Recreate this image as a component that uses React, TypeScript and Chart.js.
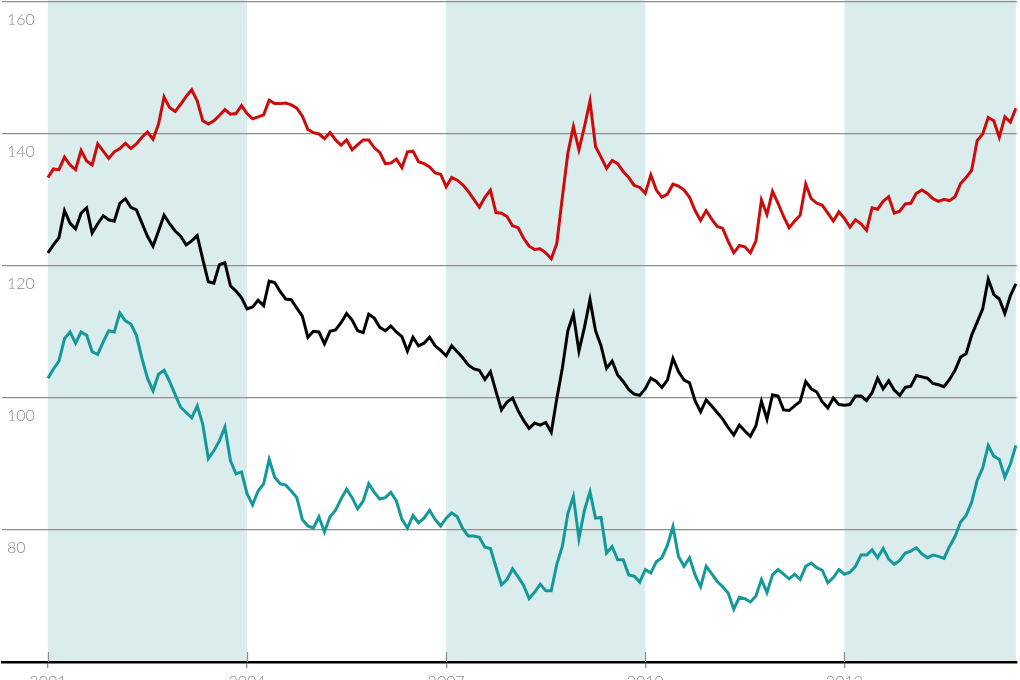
import React, { useEffect, useRef } from 'react';
import { Chart, registerables, Plugin } from 'chart.js';

Chart.register(...registerables);

// month index 0 = Jan 2001, one value per month up to Aug 2015
const redSeries = [
  133.4, 134.7, 134.6, 136.5, 135.3, 134.6, 137.5, 135.9, 135.3, 138.5, 137.4, 136.3,
  137.3, 137.8, 138.6, 137.8, 138.5, 139.5, 140.3, 139.2, 141.5, 145.6, 144.0, 143.4,
  144.5, 145.7, 146.7, 145.0, 142.0, 141.5, 142.0, 142.8, 143.7, 143.0, 143.1, 144.3,
  143.1, 142.3, 142.6, 142.9, 145.1, 144.6, 144.6, 144.7, 144.4, 143.9, 142.7, 140.7,
  140.2, 140.0, 139.3, 140.2, 139.1, 138.3, 139.1, 137.6, 138.4, 139.1, 139.1, 137.9,
  137.2, 135.5, 135.6, 136.2, 134.9, 137.3, 137.4, 135.8, 135.5, 135.0, 134.1, 133.9,
  132.0, 133.4, 133.0, 132.3, 131.3, 130.1, 128.9, 130.4, 131.5, 128.1, 128.0, 127.5,
  126.1, 125.8, 124.2, 123.0, 122.5, 122.6, 122.0, 121.1, 123.4, 130.4, 137.1, 141.1,
  137.6, 141.1, 145.0, 138.1, 136.5, 134.8, 136.0, 135.5, 134.3, 133.4, 132.2, 131.9,
  131.0, 133.8, 131.5, 130.4, 130.9, 132.4, 132.1, 131.5, 130.4, 128.4, 126.9, 128.4,
  127.1, 126.0, 125.7, 123.7, 122.0, 123.1, 122.9, 122.0, 123.8, 130.0, 127.8, 131.3,
  129.5, 127.5, 125.8, 126.8, 127.7, 132.4, 130.2, 129.5, 129.2, 128.0, 126.8, 128.2,
  127.2, 125.9, 127.0, 126.4, 125.4, 128.8, 128.6, 129.8, 130.5, 128.0, 128.3, 129.4,
  129.5, 131.0, 131.5, 131.0, 130.2, 129.8, 130.1, 129.9, 130.5, 132.5, 133.4, 134.5,
  139.0, 140.0, 142.5, 142.0, 139.5, 142.6, 141.8, 143.9,
];

const blackSeries = [
  122.0, 123.2, 124.3, 128.4, 126.5, 125.6, 128.0, 128.8, 125.0, 126.4, 127.6, 127.0,
  126.8, 129.5, 130.2, 128.9, 128.5, 126.5, 124.5, 123.0, 125.3, 127.7, 126.4, 125.3,
  124.5, 123.2, 123.8, 124.6, 121.0, 117.6, 117.4, 120.2, 120.5, 117.0, 116.2, 115.2,
  113.5, 113.8, 114.8, 114.0, 117.7, 117.5, 116.1, 115.0, 114.9, 113.6, 112.4, 109.2,
  110.1, 110.0, 108.2, 110.1, 110.3, 111.4, 112.8, 111.8, 110.2, 109.9, 112.7, 112.1,
  110.7, 110.2, 110.9, 110.0, 109.3, 107.1, 109.2, 107.9, 108.3, 109.2, 107.9, 107.2,
  106.4, 107.9, 107.0, 106.1, 105.0, 104.4, 104.2, 102.8, 104.0, 101.0, 98.2, 99.4,
  100.0, 98.1, 96.6, 95.4, 96.2, 95.9, 96.3, 94.8, 99.9, 104.5, 110.2, 112.7,
  107.1, 110.7, 114.9, 110.2, 107.9, 104.5, 105.6, 103.5, 102.5, 101.3, 100.6, 100.4,
  101.4, 103.0, 102.5, 101.6, 102.7, 106.0, 104.0, 102.7, 102.3, 99.6, 97.9, 99.7,
  98.8, 97.8, 96.8, 95.5, 94.4, 95.9, 95.0, 94.2, 95.8, 99.5, 96.8, 100.5,
  100.3, 98.2, 98.1, 98.8, 99.5, 102.5, 101.4, 100.9, 99.4, 98.5, 100.0, 99.0,
  98.9, 99.0, 100.3, 100.3, 99.6, 100.8, 103.0, 101.4, 102.6, 101.2, 100.4, 101.6,
  101.8, 103.4, 103.2, 103.0, 102.2, 102.0, 101.7, 102.8, 104.2, 106.2, 106.7, 109.5,
  111.5, 113.5, 118.0, 115.7, 115.0, 112.8, 115.5, 117.3,
];

const tealSeries = [
  103.0, 104.4, 105.6, 109.0, 110.0, 108.3, 110.0, 109.5, 107.0, 106.6, 108.5, 110.2,
  110.0, 112.9, 111.7, 111.2, 109.5, 106.0, 103.0, 101.1, 103.6, 104.2, 102.5, 100.5,
  98.6, 97.8, 97.0, 98.8, 96.0, 90.8, 92.0, 93.5, 95.6, 90.5, 88.5, 88.8,
  85.5, 83.8, 85.9, 87.0, 90.7, 88.0, 87.0, 86.8, 85.9, 84.9, 81.6, 80.6,
  80.3, 82.0, 79.7, 82.0, 83.0, 84.7, 86.2, 84.9, 83.2, 84.4, 87.0, 85.7,
  84.7, 84.9, 85.7, 84.4, 81.6, 80.3, 82.2, 81.1, 81.8, 83.0, 81.6, 80.6,
  81.8, 82.6, 82.0, 80.2, 79.1, 79.1, 78.9, 77.4, 77.2, 74.4, 71.7, 72.5,
  74.1, 72.9, 71.6, 69.6, 70.6, 71.8, 70.8, 70.8, 74.8, 77.5, 82.5, 85.1,
  78.7, 83.0, 85.8, 81.8, 81.9, 76.5, 77.5, 75.5, 75.5, 73.2, 73.0, 72.1,
  74.0, 73.5, 75.2, 75.8, 77.7, 80.5, 76.0, 74.5, 75.8, 73.2, 71.4, 74.5,
  73.4, 72.2, 71.4, 70.4, 68.0, 69.8, 69.6, 69.1, 70.0, 72.5, 70.5, 73.2,
  74.0, 73.3, 72.6, 73.3, 72.5, 74.5, 75.0, 74.3, 73.9, 72.0, 72.8, 74.0,
  73.3, 73.6, 74.5, 76.2, 76.2, 77.0, 75.8, 77.2, 75.6, 74.8, 75.4, 76.5,
  76.8, 77.3, 76.4, 75.8, 76.2, 76.0, 75.7, 77.5, 79.0, 81.2, 82.2, 84.2,
  87.5, 89.4, 92.8, 91.2, 90.7, 88.0, 90.0, 92.8,
];

const startYear = 2001;
const yearTicks = [2001, 2004, 2007, 2010, 2013];
const valueTicks = [80, 100, 120, 140, 160];
const shadedFrom = [2001, 2007, 2013];
const shadedTo = [2004, 2010, 2015 + 7 / 12];

const toMonth = (year: number) => (year - startYear) * 12;
const toPoints = (values: number[]) => values.map((v, i) => ({ x: i, y: v }));

const GRID = '#8f8f8f';
const LABEL = '#8a8a8a';

const bandsPlugin: Plugin<'line'> = {
  id: 'bands',
  beforeDraw(chart) {
    const { ctx, chartArea, scales } = chart;
    const x = scales.x;
    ctx.save();
    ctx.fillStyle = '#dbecec';
    shadedFrom.forEach((from, i) => {
      const x0 = x.getPixelForValue(toMonth(from));
      const x1 = Math.min(x.getPixelForValue(toMonth(shadedTo[i])), chartArea.right);
      ctx.fillRect(x0, 0, x1 - x0, chartArea.bottom);
    });
    ctx.restore();
  },
  afterDraw(chart) {
    // year ticks also poke up into the plot
    const { ctx, chartArea, scales } = chart;
    const x = scales.x;
    ctx.save();
    ctx.strokeStyle = GRID;
    ctx.lineWidth = 1.3;
    yearTicks.forEach(year => {
      const px = Math.round(x.getPixelForValue(toMonth(year))) + 0.5;
      ctx.beginPath();
      ctx.moveTo(px, chartArea.bottom - 10);
      ctx.lineTo(px, chartArea.bottom);
      ctx.stroke();
    });
    ctx.restore();
  },
};

const App = () => {
  const canvasRef = useRef<HTMLCanvasElement>(null);
  const chartRef = useRef<Chart | null>(null);

  useEffect(() => {
    if (!canvasRef.current) return;
    const ctx = canvasRef.current.getContext('2d');
    if (!ctx) return;

    const line = (label: string, values: number[], color: string) => ({
      label,
      data: toPoints(values),
      borderColor: color,
      backgroundColor: color,
      borderWidth: 3,
      pointRadius: 0,
      tension: 0,
      fill: false,
    });

    chartRef.current = new Chart(ctx, {
      type: 'line',
      data: {
        datasets: [
          line('Red', redSeries, '#cc0b0b'),
          line('Black', blackSeries, '#000000'),
          line('Teal', tealSeries, '#14999a'),
        ],
      },
      options: {
        responsive: true,
        maintainAspectRatio: false,
        animation: false,
        layout: { padding: { left: 2, right: 3, top: 0, bottom: 0 } },
        plugins: {
          legend: { display: false },
          tooltip: { enabled: false },
        },
        scales: {
          x: {
            type: 'linear',
            min: -8.3,
            max: 175.2,
            afterBuildTicks: scale => {
              scale.ticks = yearTicks.map(y => ({ value: toMonth(y) }));
            },
            afterFit: scale => {
              scale.height = 38;
              scale.paddingLeft = 0;
              scale.paddingRight = 0;
            },
            ticks: {
              autoSkip: false,
              maxRotation: 0,
              padding: 4,
              color: LABEL,
              font: { family: 'Lato', size: 16, weight: 300 },
              callback: value => String(startYear + Math.round(Number(value) / 12)),
            },
            grid: {
              display: true,
              drawOnChartArea: false,
              drawTicks: true,
              tickLength: 6,
              color: GRID,
              lineWidth: 1.3,
            },
            border: { display: true, color: '#000000', width: 2.5 },
          },
          y: {
            position: 'left',
            min: 60,
            max: 160.3,
            afterBuildTicks: scale => {
              scale.ticks = valueTicks.map(v => ({ value: v }));
            },
            afterFit: scale => {
              scale.width = 0;
              scale.paddingTop = 0;
              scale.paddingBottom = 0;
            },
            ticks: {
              mirror: true,
              padding: 5,
              labelOffset: 18,
              color: LABEL,
              font: { family: 'Lato', size: 16, weight: 300 },
            },
            grid: {
              color: GRID,
              lineWidth: 1.3,
              drawTicks: false,
            },
            border: { display: false },
          },
        },
      },
      plugins: [bandsPlugin],
    });

    return () => {
      if (chartRef.current) {
        chartRef.current.destroy();
        chartRef.current = null;
      }
    };
  }, []);

  return (
    <div style={{ position: 'fixed', left: 0, top: 0, width: 1020, height: 700, background: '#ffffff' }}>
      <canvas ref={canvasRef}></canvas>
    </div>
  );
};

export default App;
